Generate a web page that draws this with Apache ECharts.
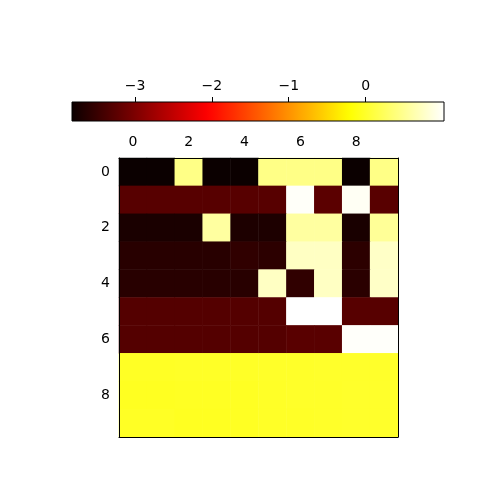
<!DOCTYPE html>
<html>
<head>
<meta charset="utf-8">
<script src="https://cdn.jsdelivr.net/npm/echarts@6/dist/echarts.min.js"></script>
<style>
  html, body { margin: 0; padding: 0; background: #fff; }
  #main { width: 480px; height: 480px; }
</style>
</head>
<body>
<div id="main"></div>
<script>
// categories
const xCats = ['0', '1', '2', '3', '4', '5', '6', '7', '8', '9']
const yCats = ['0', '1', '2', '3', '4', '5', '6', '7', '8', '9']

// cell values, one row per y category
const row0 = [-3.82, -3.82, 0.44, -3.82, -3.82, 0.44, 0.44, 0.44, -3.82, 0.44]
const row1 = [-3.27, -3.27, -3.27, -3.27, -3.27, -3.27, 0.99, -3.24, 0.97, -3.26]
const row2 = [-3.71, -3.71, -3.71, 0.56, -3.69, -3.69, 0.56, 0.56, -3.72, 0.52]
const row3 = [-3.61, -3.61, -3.61, -3.61, -3.55, -3.58, 0.73, 0.73, -3.58, 0.75]
const row4 = [-3.61, -3.61, -3.61, -3.61, -3.61, 0.73, -3.55, 0.73, -3.59, 0.75]
const row5 = [-3.29, -3.29, -3.29, -3.29, -3.29, -3.29, 1.02, 1.02, -3.27, -3.27]
const row6 = [-3.29, -3.29, -3.29, -3.29, -3.29, -3.29, -3.25, -3.25, 0.995, 0.995]
const row7 = [-0.03, -0.03, -0.02, -0.02, -0.02, -0.01, -0.01, 0.0, 0.0, 0.0]
const row8 = [-0.05, -0.05, -0.04, -0.04, -0.04, -0.02, -0.01, -0.01, 0.0, 0.0]
const row9 = [-0.03, -0.03, -0.05, -0.05, -0.04, -0.02, -0.02, -0.01, 0.0, 0.0]
const rows = [row0, row1, row2, row3, row4, row5, row6, row7, row8, row9]

// colour bar range and ticks
const vMin = -3.82
const vMax = 1.02
const cbTicks = [-3, -2, -1, 0]

// matplotlib 'hot'
const hot = (t) => {
    const r = Math.min(1, 0.0416 + t / 0.365079 * 0.9584)
    const g = Math.max(0, Math.min(1, (t - 0.365079) / (0.746032 - 0.365079)))
    const b = Math.max(0, Math.min(1, (t - 0.746032) / (1 - 0.746032)))
    const h = (v) => Math.round(v * 255).toString(16).padStart(2, '0')
    return '#' + h(r) + h(g) + h(b)
}
const hotColors = []
for (let i = 0; i <= 64; i++) hotColors.push(hot(i / 64))

const data = []
rows.forEach((row, y) => row.forEach((v, x) => data.push([x, y, v])))

const font = 'DejaVu Sans'
const minus = (v) => String(v).replace('-', '\u2212')

const cb = { left: 72, top: 102, width: 372, height: 19 }
const tick = { length: 5, lineStyle: { color: '#000', width: 1 } }

const chart = echarts.init(document.getElementById('main'))
const option = {
    backgroundColor: '#fff',
    animation: false,
    textStyle: { fontFamily: font },
    grid: [
        { left: 119, top: 158, width: 279, height: 279 },
        { left: cb.left, top: cb.top, width: cb.width, height: cb.height }
    ],
    xAxis: [
        {
            type: 'category', data: xCats, gridIndex: 0, position: 'top', z: 5,
            axisLine: { lineStyle: { color: '#000', width: 1 } },
            axisTick: { alignWithLabel: true, interval: 1, ...tick },
            axisLabel: { interval: 1, color: '#000', fontSize: 14, fontFamily: font, margin: 9 },
            splitLine: { show: false }
        },
        {
            type: 'category', data: xCats, gridIndex: 0, position: 'bottom', z: 5,
            axisLine: { lineStyle: { color: '#000', width: 1 } },
            axisTick: { alignWithLabel: true, interval: 1, ...tick },
            axisLabel: { show: false },
            splitLine: { show: false }
        },
        {
            type: 'value', gridIndex: 1, position: 'top', min: vMin, max: vMax, z: 12,
            axisLine: { show: false, onZero: false },
            axisTick: { customValues: cbTicks, inside: false, ...tick },
            axisLabel: { customValues: cbTicks, color: '#000', fontSize: 14, fontFamily: font, margin: 9, formatter: minus },
            splitLine: { show: false }
        }
    ],
    yAxis: [
        {
            type: 'category', data: yCats, gridIndex: 0, inverse: true, position: 'left', z: 5,
            axisLine: { lineStyle: { color: '#000', width: 1 } },
            axisTick: { alignWithLabel: true, interval: 1, ...tick },
            axisLabel: { interval: 1, color: '#000', fontSize: 14, fontFamily: font, margin: 9 },
            splitLine: { show: false }
        },
        {
            type: 'category', data: yCats, gridIndex: 0, inverse: true, position: 'right', z: 5,
            axisLine: { lineStyle: { color: '#000', width: 1 } },
            axisTick: { show: false },
            axisLabel: { show: false },
            splitLine: { show: false }
        },
        {
            type: 'value', gridIndex: 1, show: false, min: 0, max: 1
        }
    ],
    visualMap: {
        show: false, type: 'continuous', min: vMin, max: vMax, dimension: 2, seriesIndex: 0,
        inRange: { color: hotColors }
    },
    graphic: [{
        type: 'rect', z: 10,
        shape: { x: cb.left, y: cb.top, width: cb.width, height: cb.height },
        style: {
            fill: new echarts.graphic.LinearGradient(0, 0, 1, 0,
                hotColors.map((c, i) => ({ offset: i / (hotColors.length - 1), color: c }))),
            stroke: '#000', lineWidth: 1
        }
    }],
    series: [{
        type: 'heatmap', xAxisIndex: 0, yAxisIndex: 0, data: data,
        itemStyle: { borderWidth: 0 },
        emphasis: { disabled: true }
    }]
}
chart.setOption(option)
</script>
</body>
</html>
